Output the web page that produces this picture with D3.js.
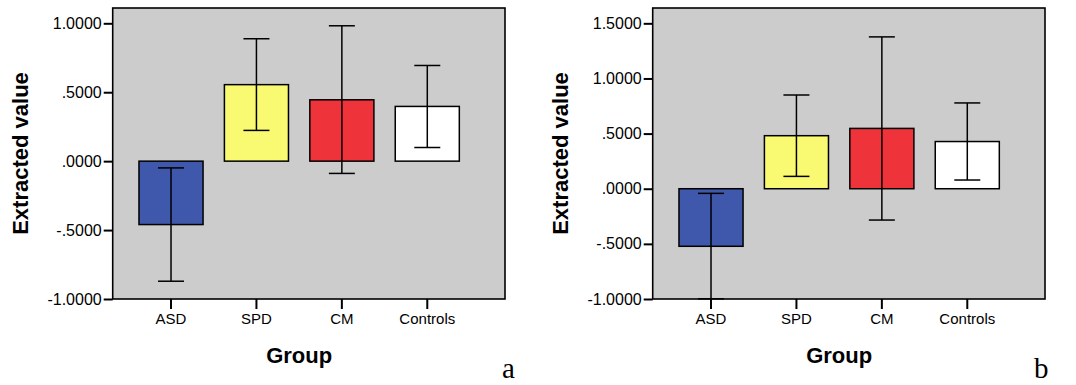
<!DOCTYPE html>
<html>
<head>
<meta charset="utf-8">
<script src="https://cdn.jsdelivr.net/npm/d3@7"></script>
<style>
  html, body { margin: 0; padding: 0; background: #ffffff; }
  svg { display: block; }
</style>
</head>
<body>
<svg id="chart" width="1076" height="385"></svg>
<script>
// ---- Data ----
const categories = ["ASD", "SPD", "CM", "Controls"];
const colors = ["#3f58ab", "#fafa72", "#ef333b", "#ffffff"];

const meansA = [-0.460, 0.555, 0.445, 0.397];
const lowerA = [-0.871, 0.223, -0.089, 0.099];
const upperA = [-0.049, 0.888, 0.982, 0.694];
const ticksA = [-1.0, -0.5, 0.0, 0.5, 1.0];
const tickLabelsA = ["-1.0000", "-.5000", ".0000", ".5000", "1.0000"];

const meansB = [-0.522, 0.481, 0.547, 0.428];
const lowerB = [-0.998, 0.112, -0.284, 0.079];
const upperB = [-0.042, 0.850, 1.377, 0.778];
const ticksB = [-1.0, -0.5, 0.0, 0.5, 1.0, 1.5];
const tickLabelsB = ["-1.0000", "-.5000", ".0000", ".5000", "1.0000", "1.5000"];

const panelLetters = ["a", "b"];
const yTitle = "Extracted value";
const xTitle = "Group";

// ---- Drawing ----
const svg = d3.select("#chart");

function drawPanel(offsetX, means, lower, upper, ticks, tickLabels, yMax, letter) {
  const left = 112.7 + offsetX, right = 505 + offsetX, top = 8, bottom = 299;
  const g = svg.append("g");

  const x = d3.scaleBand().domain(categories)
    .range([128.3 + offsetX, 470 + offsetX]).paddingInner(0.25).paddingOuter(0.125);
  const y = d3.scaleLinear().domain([-1, yMax]).range([bottom, top]);

  // plot background
  g.append("rect")
    .attr("x", left).attr("y", top)
    .attr("width", right - left).attr("height", bottom - top)
    .attr("fill", "#cccccc");

  // bars
  g.selectAll("rect.bar").data(categories).enter().append("rect")
    .attr("class", "bar")
    .attr("x", d => x(d))
    .attr("width", x.bandwidth())
    .attr("y", (d, i) => y(Math.max(0, means[i])))
    .attr("height", (d, i) => Math.abs(y(means[i]) - y(0)))
    .attr("fill", (d, i) => colors[i])
    .attr("stroke", "#000").attr("stroke-width", 1.5);

  // error bars
  const cap = 13;
  const eb = g.selectAll("g.eb").data(categories).enter().append("g").attr("class", "eb")
    .attr("stroke", "#000").attr("stroke-width", 1.5);
  eb.append("line")
    .attr("x1", d => x(d) + x.bandwidth() / 2).attr("x2", d => x(d) + x.bandwidth() / 2)
    .attr("y1", (d, i) => y(lower[i])).attr("y2", (d, i) => y(upper[i]));
  eb.append("line")
    .attr("x1", d => x(d) + x.bandwidth() / 2 - cap).attr("x2", d => x(d) + x.bandwidth() / 2 + cap)
    .attr("y1", (d, i) => y(upper[i])).attr("y2", (d, i) => y(upper[i]));
  eb.append("line")
    .attr("x1", d => x(d) + x.bandwidth() / 2 - cap).attr("x2", d => x(d) + x.bandwidth() / 2 + cap)
    .attr("y1", (d, i) => y(lower[i])).attr("y2", (d, i) => y(lower[i]));

  // frame
  g.append("rect")
    .attr("x", left).attr("y", top)
    .attr("width", right - left).attr("height", bottom - top)
    .attr("fill", "none").attr("stroke", "#000").attr("stroke-width", 1.6);

  // y axis
  const yAxis = g.append("g").attr("transform", `translate(${left},0)`)
    .call(d3.axisLeft(y).tickValues(ticks)
      .tickFormat((d, i) => tickLabels[i]).tickSize(9).tickPadding(2));
  yAxis.select(".domain").remove();
  yAxis.selectAll(".tick line").attr("stroke", "#000").attr("stroke-width", 2);
  yAxis.selectAll(".tick text")
    .attr("fill", "#000")
    .style("font-family", "Arial, 'Liberation Sans', sans-serif")
    .style("font-size", "16px");

  // x axis
  const xAxis = g.append("g").attr("transform", `translate(0,${bottom})`)
    .call(d3.axisBottom(x).tickSize(10).tickPadding(4));
  xAxis.select(".domain").remove();
  xAxis.selectAll(".tick line").attr("stroke", "#000").attr("stroke-width", 2);
  xAxis.selectAll(".tick text")
    .attr("fill", "#000")
    .style("font-family", "Arial, 'Liberation Sans', sans-serif")
    .style("font-size", "15px");

  // axis titles
  const xc = (x(categories[0]) + x(categories[categories.length - 1]) + x.bandwidth()) / 2;
  g.append("text")
    .attr("x", xc).attr("y", 363)
    .attr("text-anchor", "middle")
    .style("font-family", "Arial, 'Liberation Sans', sans-serif")
    .style("font-size", "22px").style("font-weight", "bold")
    .text(xTitle);

  g.append("text")
    .attr("transform", `translate(${27.5 + offsetX},${(top + bottom) / 2}) rotate(-90)`)
    .attr("text-anchor", "middle")
    .style("font-family", "Arial, 'Liberation Sans', sans-serif")
    .style("font-size", "22px").style("font-weight", "bold")
    .text(yTitle);

  // panel letter
  g.append("text")
    .attr("x", 502 + offsetX + (letter === "b" ? -8 : 0)).attr("y", 378)
    .style("font-family", "'Liberation Serif', 'Times New Roman', serif")
    .style("font-size", "29px")
    .text(letter);
}

drawPanel(0, meansA, lowerA, upperA, ticksA, tickLabelsA, 1.111, panelLetters[0]);
drawPanel(540, meansB, lowerB, upperB, ticksB, tickLabelsB, 1.639, panelLetters[1]);
</script>
</body>
</html>
